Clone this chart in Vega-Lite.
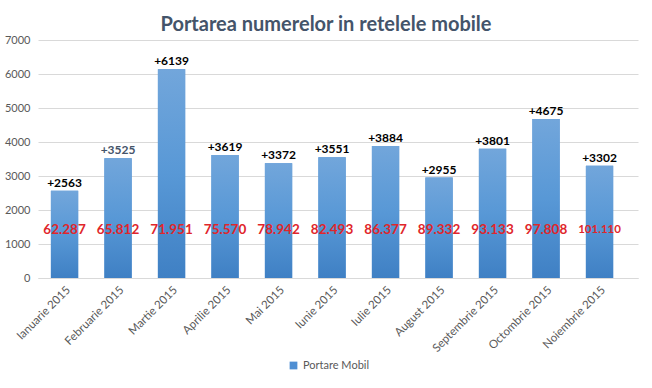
{
  "$schema": "https://vega.github.io/schema/vega-lite/v6.json",
  "autosize": "none",
  "width": 600,
  "height": 238,
  "padding": {"left": 38, "top": 40, "right": 14, "bottom": 110},
  "background": "white",
  "config": {"view": {"stroke": null}, "font": "Lato"},
  "title": {"text": "Portarea numerelor in retelele mobile", "fontSize": 20, "fontWeight": "bold", "color": "#44546A", "font": "Lato", "offset": -1, "anchor": "middle", "dx": -12},
  "data": {"values": [
    {"month": "Ianuarie 2015", "portari": 2563, "total": "62.287", "serie": "Portare Mobil"},
    {"month": "Februarie 2015", "portari": 3525, "total": "65.812", "serie": "Portare Mobil"},
    {"month": "Martie 2015", "portari": 6139, "total": "71.951", "serie": "Portare Mobil"},
    {"month": "Aprilie 2015", "portari": 3619, "total": "75.570", "serie": "Portare Mobil"},
    {"month": "Mai 2015", "portari": 3372, "total": "78.942", "serie": "Portare Mobil"},
    {"month": "Iunie 2015", "portari": 3551, "total": "82.493", "serie": "Portare Mobil"},
    {"month": "Iulie 2015", "portari": 3884, "total": "86.377", "serie": "Portare Mobil"},
    {"month": "August 2015", "portari": 2955, "total": "89.332", "serie": "Portare Mobil"},
    {"month": "Septembrie 2015", "portari": 3801, "total": "93.133", "serie": "Portare Mobil"},
    {"month": "Octombrie 2015", "portari": 4675, "total": "97.808", "serie": "Portare Mobil"},
    {"month": "Noiembrie 2015", "portari": 3302, "total": "101.110", "serie": "Portare Mobil"}
  ]},
  "encoding": {
    "x": {"field": "month", "type": "nominal", "sort": null,
      "scale": {"paddingInner": 0.49, "paddingOuter": 0.3526, "align": 0.342},
      "axis": {"title": null, "labelAngle": -45, "labelFontSize": 11.5, "labelColor": "#595959", "ticks": false, "domainColor": "#d9d9d9", "labelPadding": 6, "labelFont": "Lato"}},
    "y": {"field": "portari", "type": "quantitative", "scale": {"domain": [0, 7000], "nice": false},
      "axis": {"title": null, "values": [0,1000,2000,3000,4000,5000,6000,7000], "format": "d", "labelOverlap": false, "domain": false, "ticks": false, "gridColor": "#d9d9d9", "labelFontSize": 11, "labelColor": "#595959", "labelPadding": 8, "labelFont": "Lato"}}
  },
  "layer": [
    {
      "mark": {"type": "bar"},
      "encoding": {
        "color": {"field": "serie", "type": "nominal", "scale": {"range": ["#4f8fd3"]},
          "legend": {"title": null, "orient": "none", "legendX": 250, "legendY": 320, "symbolType": "square", "symbolSize": 60, "labelFontSize": 11, "labelColor": "#595959", "labelFont": "Lato"}}
      }
    },
    {
      "mark": {"type": "bar", "fill": {"gradient": "linear", "x1": 0, "y1": 0, "x2": 0, "y2": 1, "stops": [{"offset": 0, "color": "#72a6db"}, {"offset": 0.5, "color": "#5898d6"}, {"offset": 1, "color": "#3f80c4"}]}}
    },
    {
      "mark": {"type": "text", "dy": -8, "fontSize": 12, "fontWeight": "bold", "font": "Lato"},
      "encoding": {
        "text": {"field": "portari", "type": "quantitative", "format": "+d"},
        "color": {"condition": {"test": "datum.month === 'Februarie 2015'", "value": "#44546A"}, "value": "#000000"}
      }
    },
    {
      "mark": {"type": "text", "fontSize": 13.5, "fontWeight": "bold", "color": "#e0262b", "font": "Lato"},
      "encoding": {
        "y": {"datum": 1400, "type": "quantitative"},
        "text": {"field": "total", "type": "nominal"},
        "size": {"condition": {"test": "datum.month === 'Noiembrie 2015'", "value": 11.5}, "value": 13.5}
      }
    }
  ]
}
